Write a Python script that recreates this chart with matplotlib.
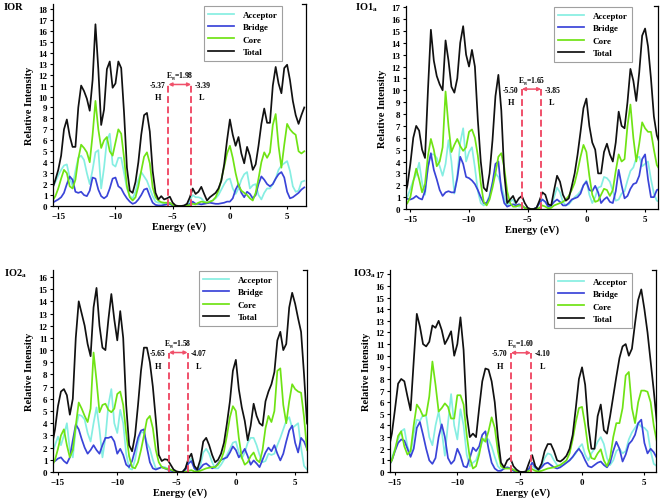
import numpy as np
import matplotlib
matplotlib.use("Agg")
import matplotlib.pyplot as plt

plt.rcParams['font.family'] = ['Liberation Serif', 'DejaVu Serif']
plt.rcParams['font.weight'] = 'bold'
plt.rcParams['axes.labelweight'] = 'bold'
plt.rcParams['mathtext.fontset'] = 'custom'
plt.rcParams['mathtext.rm'] = 'Liberation Serif:bold'
plt.rcParams['mathtext.bf'] = 'Liberation Serif:bold'
plt.rcParams['mathtext.it'] = 'Liberation Serif:bold'

# energy sampling grid (eV), step 0.25 from -15.5 to 6.5
energy = np.round(np.arange(-15.5, 6.51, 0.25), 2)

series_names = ["Acceptor", "Bridge", "Core", "Total"]
panel_names = ["IOR", "IO1", "IO2", "IO3"]
panel_sub = ["", "a", "a", "a"]

# ---------------- IOR ----------------
ior_total = [1.6, 2.4, 3.3, 4.6, 7.0, 7.9, 6.4, 5.4, 5.4, 9.0, 11.0, 10.5, 9.8, 8.7, 11.5, 16.6,
             12.5, 7.4, 8.8, 12.5, 13.2, 10.8, 11.2, 13.2, 12.6, 8.5, 3.5, 1.4, 1.2, 2.2, 4.0, 6.5,
             8.3, 8.5, 6.8, 3.2, 1.2, 0.6, 0.9, 0.6, 0.7, 0.85, 0.3, 0.05, 0, 0, 0.05, 0.2,
             0.8, 1.6, 1.1, 1.3, 1.75, 1.1, 0.5, 0.8, 1.0, 1.2, 1.6, 2.3, 3.8, 6.0, 7.9, 6.5,
             5.5, 6.3, 4.8, 3.9, 5.4, 4.6, 3.3, 3.8, 5.5, 7.5, 8.9, 7.6, 7.6, 11.0, 12.7, 11.2,
             10.3, 12.6, 12.9, 11.5, 9.6, 8.3, 7.5, 8.3, 9.0]
ior_core = [0.5, 0.9, 1.6, 2.5, 3.3, 3.0, 1.8, 1.6, 2.4, 4.3, 5.6, 5.3, 4.9, 4.0, 6.5, 9.6,
            7.0, 5.3, 6.0, 6.3, 5.0, 4.6, 5.8, 7.0, 6.6, 4.4, 1.8, 0.8, 0.5, 0.8, 1.8, 3.2,
            4.5, 4.9, 3.9, 1.7, 0.8, 0.5, 0.35, 0.3, 0.3, 0.3, 0.1, 0, 0, 0, 0, 0.05,
            0.1, 0.2, 0.15, 0.3, 0.4, 0.35, 0.3, 0.4, 0.5, 0.8, 1.4, 2.4, 3.6, 4.8, 5.5, 4.4,
            3.0, 1.9, 1.4, 1.2, 1.0, 0.7, 0.5, 1.2, 2.5, 4.0, 4.9, 4.4, 4.9, 7.4, 8.4, 5.5,
            3.5, 5.6, 7.5, 7.0, 6.7, 6.5, 5.0, 4.8, 5.0]
ior_acceptor = [1.7, 2.2, 2.8, 3.3, 3.7, 3.8, 2.6, 1.8, 3.2, 4.4, 4.6, 4.2, 3.0, 2.0, 3.3, 4.9,
                5.1, 1.6, 3.5, 6.0, 6.6, 3.8, 3.6, 4.4, 4.4, 3.0, 1.6, 0.9, 0.7, 1.3, 2.4, 3.1,
                2.7, 2.3, 1.6, 0.9, 0.4, 0.3, 0.3, 0.2, 0.2, 0.2, 0.05, 0, 0, 0, 0, 0.1,
                0.5, 1.0, 0.8, 0.8, 0.7, 0.4, 0.3, 0.4, 0.5, 0.7, 1.0, 1.5, 2.0, 2.4, 2.5, 1.6,
                1.1, 1.6, 2.4, 2.9, 3.1, 1.6, 1.9, 2.0, 1.0, 0.6, 1.2, 1.6, 1.6, 2.0, 2.5, 3.3,
                3.7, 3.9, 4.1, 3.2, 1.8, 1.3, 1.4, 2.2, 2.3]
ior_bridge = [0.3, 0.45, 0.6, 0.8, 1.2, 2.0, 2.7, 2.4, 1.3, 1.2, 1.3, 1.0, 0.9, 1.4, 2.6, 2.5,
              1.5, 0.9, 0.7, 0.9, 1.6, 2.5, 2.6, 1.8, 1.6, 1.1, 0.7, 0.4, 0.2, 0.3, 0.6, 1.0,
              1.5, 1.6, 0.9, 0.3, 0.1, 0.05, 0.05, 0.1, 0.15, 0.2, 0.05, 0, 0, 0, 0, 0.05,
              0.2, 0.4, 0.2, 0.2, 0.15, 0.2, 0.25, 0.3, 0.25, 0.2, 0.2, 0.25, 0.3, 0.4, 0.4, 0.7,
              1.5, 2.0, 1.2, 0.8, 1.3, 1.1, 0.7, 1.0, 2.0, 2.7, 2.4, 2.0, 1.8, 2.0, 2.5, 2.9,
              3.1, 2.6, 1.3, 0.7, 0.8, 1.0, 1.2, 1.5, 1.7]

# ---------------- IO1a ----------------
io1_total = [1.0, 2.0, 3.8, 6.0, 7.0, 6.6, 5.0, 4.3, 10.0, 15.1, 12.5, 11.2, 10.5, 10.0, 14.2, 12.5,
             10.3, 9.8, 11.0, 14.0, 15.4, 13.0, 12.0, 13.4, 12.0, 7.5, 4.0, 1.8, 1.5, 3.0, 5.8, 9.5,
             11.3, 8.3, 3.0, 0.5, 0.8, 1.1, 0.5, 0.9, 1.1, 0.5, 0.1, 0, 0, 0.1, 0.7, 1.4,
             1.2, 0.4, 0.3, 1.6, 2.8, 2.3, 1.2, 0.7, 0.9, 1.9, 3.0, 4.6, 6.5, 8.5, 9.3, 7.0,
             5.6, 5.0, 3.0, 3.0, 4.8, 5.5, 4.6, 4.0, 5.6, 8.2, 7.0, 6.8, 9.0, 11.8, 10.8, 9.1,
             11.5, 14.6, 15.2, 13.7, 11.0, 7.8, 6.2, 5.5, 5.0]
io1_core = [0.2, 0.5, 1.0, 2.3, 3.4, 2.5, 1.4, 2.1, 4.5, 5.9, 5.0, 3.6, 4.0, 5.2, 9.9, 7.0,
            4.8, 5.4, 5.9, 5.3, 4.9, 5.2, 6.5, 6.7, 6.0, 4.5, 2.2, 0.6, 0.3, 0.8, 1.8, 3.0,
            4.4, 4.7, 3.5, 1.5, 0.5, 0.2, 0.2, 0.3, 0.3, 0.1, 0, 0, 0, 0, 0.1, 0.3,
            0.2, 0.05, 0.1, 0.3, 0.4, 0.5, 0.6, 0.8, 1.1, 1.6, 2.2, 3.2, 4.4, 5.4, 4.8, 2.8,
            1.2, 0.6, 0.7, 1.2, 1.7, 1.6, 1.1, 1.6, 3.2, 4.6, 4.0, 4.2, 7.0, 8.8, 6.0, 4.0,
            5.5, 7.3, 6.8, 6.5, 6.5, 5.0, 3.7, 3.3, 3.1]
io1_acceptor = [0.7, 1.0, 1.7, 2.4, 2.9, 3.9, 2.2, 1.2, 3.6, 4.6, 4.6, 4.3, 3.6, 2.8, 3.8, 5.8,
                4.0, 1.3, 2.8, 5.6, 6.8, 4.0, 4.8, 5.2, 3.5, 1.5, 0.5, 0.3, 0.5, 1.2, 2.2, 3.0,
                2.7, 2.0, 1.0, 0.3, 0.6, 0.8, 0.3, 0.2, 0.2, 0.1, 0, 0, 0, 0.1, 0.5, 0.8,
                0.6, 0.15, 0.2, 1.0, 1.8, 1.4, 0.6, 0.3, 0.4, 0.7, 1.0, 1.2, 1.5, 2.0, 2.4, 1.2,
                0.5, 1.0, 1.8, 1.9, 2.7, 2.6, 2.3, 1.5, 0.7, 0.8, 1.3, 1.5, 2.4, 3.2, 3.5, 4.3,
                4.4, 3.6, 3.8, 4.0, 2.5, 1.3, 0.7, 0.6, 0.6]
io1_bridge = [0.9, 0.85, 0.8, 0.9, 1.1, 0.9, 0.8, 1.5, 3.5, 4.7, 3.3, 2.5, 1.6, 1.1, 1.4, 1.5,
              1.4, 1.4, 2.6, 4.4, 3.8, 2.7, 2.6, 2.4, 2.1, 1.6, 1.0, 0.5, 0.5, 1.0, 2.2, 3.8,
              4.0, 1.6, 0.5, 0.2, 0.3, 0.4, 0.3, 0.4, 0.3, 0.1, 0, 0, 0, 0.1, 0.5, 0.8,
              0.6, 0.2, 0.3, 0.6, 0.8, 0.6, 0.3, 0.3, 0.5, 0.8, 0.9, 1.0, 1.3, 2.0, 2.3, 1.6,
              1.5, 1.95, 1.4, 0.5, 0.8, 1.0, 0.6, 0.5, 1.5, 3.3, 2.0, 0.9, 1.1, 1.7, 2.1, 2.2,
              2.8, 4.2, 4.6, 2.5, 1.0, 1.0, 1.6, 1.7, 1.7]

# ---------------- IO2a ----------------
io2_total = [2.2, 3.5, 5.4, 6.6, 6.8, 6.3, 4.7, 6.0, 11.0, 14.0, 13.0, 12.0, 10.5, 9.5, 13.5, 15.1,
             12.0, 10.2, 10.0, 12.5, 14.6, 12.5, 10.8, 13.2, 11.0, 5.5, 2.2, 1.7, 3.0, 5.5, 8.3, 10.2,
             10.2, 9.0, 7.0, 4.3, 1.4, 0.9, 1.05, 1.0, 0.6, 0.2, 0.05, 0, 0, 0.3, 1.1, 1.5,
             0.5, 0.2, 1.0, 2.5, 2.8, 2.2, 1.4, 0.8, 1.0, 1.5, 2.4, 4.0, 5.8, 8.3, 9.2, 6.8,
             5.3, 4.2, 2.6, 3.8, 5.6, 4.6, 4.0, 3.8, 5.8, 6.6, 7.2, 8.2, 10.8, 11.5, 10.0, 10.5,
             13.5, 14.7, 13.8, 12.6, 11.5, 8.0, 4.0, 3.5, 3.0]
io2_core = [0.5, 1.0, 1.9, 3.0, 3.5, 2.2, 1.2, 1.8, 3.8, 5.7, 5.2, 4.6, 4.1, 5.2, 9.8, 7.5,
            4.9, 5.5, 5.6, 5.1, 4.9, 5.2, 6.4, 6.6, 5.5, 3.2, 1.3, 0.4, 0.3, 0.8, 1.8, 3.0,
            4.3, 4.6, 3.6, 1.8, 0.8, 0.4, 0.3, 0.25, 0.2, 0.1, 0, 0, 0, 0, 0.1, 0.15,
            0.05, 0.05, 0.1, 0.2, 0.3, 0.35, 0.4, 0.4, 0.6, 1.0, 1.7, 3.0, 4.5, 5.4, 5.0, 2.8,
            1.2, 0.6, 0.8, 1.3, 1.6, 1.0, 0.8, 1.8, 3.6, 4.6, 4.1, 5.0, 8.3, 8.5, 5.5, 4.0,
            5.8, 7.2, 6.8, 6.6, 6.5, 4.5, 1.8, 1.5, 1.4]
io2_acceptor = [1.5, 2.2, 2.9, 2.2, 3.0, 4.0, 1.8, 1.2, 3.5, 4.7, 4.6, 4.3, 3.2, 2.5, 4.0, 5.3,
                3.5, 1.2, 2.8, 5.5, 6.8, 4.0, 3.2, 5.1, 4.0, 1.5, 0.3, 0.2, 1.0, 2.4, 3.3, 3.2,
                2.4, 1.9, 1.0, 0.3, 0.3, 0.4, 0.4, 0.3, 0.2, 0.1, 0, 0, 0, 0.3, 0.9, 1.1,
                0.3, 0.05, 0.5, 1.6, 1.9, 1.5, 0.8, 0.3, 0.3, 0.6, 1.0, 1.4, 1.9, 2.4, 2.5, 1.6,
                1.1, 1.6, 2.4, 2.8, 2.8, 2.2, 1.4, 0.8, 0.9, 1.5, 1.4, 1.5, 2.2, 2.8, 3.5, 4.2,
                4.5, 3.6, 3.8, 4.0, 2.0, 0.5, 0.2, 0.2, 0.2]
io2_bridge = [0.8, 0.9, 1.1, 1.2, 0.9, 0.7, 1.2, 2.6, 3.9, 3.5, 2.7, 2.0, 1.5, 1.8, 2.2, 1.8,
              1.5, 2.2, 2.8, 2.8, 2.9, 2.5, 1.5, 1.9, 1.4, 0.6, 0.4, 0.9, 1.8, 2.8, 3.4, 3.5,
              2.0, 0.8, 0.3, 0.2, 0.3, 0.4, 0.3, 0.2, 0.1, 0.05, 0, 0, 0, 0.2, 0.7, 0.9,
              0.3, 0.1, 0.3, 0.6, 0.7, 0.5, 0.3, 0.4, 0.7, 1.0, 1.1, 1.2, 1.6, 2.1, 1.8, 1.2,
              1.5, 1.9, 1.3, 0.6, 0.95, 0.7, 0.4, 1.0, 1.6, 2.0, 1.7, 2.2, 1.5, 0.95, 1.5, 2.5,
              3.4, 3.8, 2.4, 1.6, 2.8, 2.5, 1.9, 1.8, 1.8]

# ---------------- IO3a ----------------
io3_total = [2.0, 3.3, 5.4, 7.6, 8.0, 7.8, 6.5, 5.3, 9.5, 13.6, 12.5, 11.0, 10.8, 11.2, 12.6, 12.4,
             13.0, 12.2, 11.0, 11.5, 12.1, 10.0, 11.0, 13.3, 10.5, 5.0, 3.0, 3.3, 3.0, 5.5, 7.8, 8.9,
             8.8, 7.8, 6.0, 3.0, 0.8, 0.4, 1.0, 1.2, 0.5, 0.2, 0.02, 0, 0.05, 0.8, 1.45, 0.5,
             0.2, 0.7, 1.8, 2.4, 2.4, 1.8, 1.0, 0.9, 1.1, 1.4, 2.0, 3.2, 5.5, 8.0, 9.0, 7.5,
             4.0, 2.0, 2.0, 4.8, 5.8, 3.6, 3.3, 4.8, 6.5, 8.2, 9.8, 10.8, 11.0, 10.0, 10.6, 12.8,
             14.8, 15.7, 14.0, 12.0, 9.5, 7.0, 4.2, 4.0, 4.0]
io3_core = [0.6, 1.0, 1.9, 3.1, 3.5, 2.2, 1.5, 1.8, 4.0, 5.8, 5.4, 4.8, 4.9, 6.5, 9.5, 7.5,
            5.2, 5.5, 5.9, 5.6, 4.6, 4.6, 6.6, 6.6, 5.8, 3.2, 1.2, 0.3, 0.5, 1.5, 2.9, 2.6,
            3.5, 4.7, 3.8, 1.8, 0.5, 0.3, 0.3, 0.3, 0.2, 0.05, 0, 0, 0, 0.1, 0.25, 0.1,
            0.05, 0.1, 0.2, 0.3, 0.35, 0.4, 0.5, 0.6, 0.8, 1.0, 1.6, 2.8, 4.3, 5.5, 5.6, 4.0,
            2.0, 1.2, 1.1, 1.6, 1.95, 1.0, 0.5, 1.2, 3.0, 4.2, 4.2, 5.5, 8.3, 8.6, 5.5, 4.2,
            6.0, 7.0, 7.0, 6.9, 6.0, 4.0, 2.6, 2.5, 2.5]
io3_acceptor = [0.7, 1.2, 2.0, 2.8, 3.5, 3.7, 2.2, 1.5, 3.3, 4.5, 4.4, 4.9, 4.8, 3.0, 2.3, 4.0,
                5.2, 3.5, 1.4, 4.2, 6.7, 4.0, 2.8, 5.4, 4.0, 1.5, 0.5, 0.8, 1.0, 1.8, 2.6, 2.9,
                2.8, 2.2, 1.3, 0.5, 0.2, 0.3, 0.4, 0.35, 0.2, 0.05, 0, 0, 0, 0.2, 0.5, 0.3,
                0.1, 0.5, 1.2, 1.6, 1.5, 1.0, 0.6, 0.5, 0.6, 0.8, 1.0, 1.3, 1.6, 2.1, 2.4, 1.5,
                1.0, 1.6, 2.0, 2.6, 3.0, 2.4, 1.2, 0.6, 1.0, 1.8, 2.0, 1.6, 1.8, 2.8, 3.4, 3.8,
                4.2, 3.9, 3.8, 3.5, 1.8, 0.7, 0.5, 0.5, 0.5]
io3_bridge = [0.5, 1.0, 1.8, 2.5, 2.8, 2.7, 2.0, 1.3, 2.0, 3.8, 4.3, 3.2, 2.0, 1.0, 0.7, 1.2,
              3.0, 4.1, 3.0, 1.2, 0.7, 1.0, 2.0, 1.4, 0.5, 0.4, 1.2, 2.1, 1.8, 2.2, 3.2, 3.5,
              2.0, 0.8, 0.3, 0.1, 0.1, 0.3, 0.4, 0.3, 0.1, 0.05, 0, 0, 0, 0.3, 0.8, 0.4,
              0.2, 0.4, 0.7, 0.8, 0.6, 0.4, 0.3, 0.4, 0.6, 0.8, 1.0, 1.3, 1.7, 2.0, 1.6, 1.0,
              0.5, 0.4, 0.6, 0.8, 0.9, 0.6, 0.4, 0.8, 1.8, 2.6, 2.0, 0.9, 1.5, 2.4, 2.7, 3.2,
              4.2, 4.5, 2.5, 1.6, 2.0, 1.7, 1.2, 1.2, 1.2]

homo = [-5.37, -5.50, -5.65, -5.70]
lumo = [-3.39, -3.85, -4.07, -4.10]
gap = [1.98, 1.65, 1.58, 1.60]

panels = [
    (ior_acceptor, ior_bridge, ior_core, ior_total),
    (io1_acceptor, io1_bridge, io1_core, io1_total),
    (io2_acceptor, io2_bridge, io2_core, io2_total),
    (io3_acceptor, io3_bridge, io3_core, io3_total),
]
for p in panels:
    for s in p:
        assert len(s) == len(energy), len(s)

colors = ['#86eee2', '#3a44d8', '#6fe314', '#111111']
red = '#f0506a'

W, H = 661, 502
fig = plt.figure(figsize=(W / 100, H / 100), dpi=100)

# axes boxes in pixels: left, top, right, bottom
boxes = [(53, 5, 306, 207), (406, 7, 658, 210), (53, 271, 307, 473), (390, 271, 656, 473)]
xlims = [(-15.46, 6.65), (-15.37, 6.1), (-15.42, 6.0), (-15.4, 5.93)]
ylims = [18.45, 17.1, 16.57, 17.37]
ymaxtick = [18, 17, 16, 17]
arrow_top = [11.1, 10.1, 9.8, 10.25]
leg_anchor = [(0.905, 0.99), (0.897, 0.994), (0.882, 0.994), (0.91, 0.985)]
title_pos = [(4, 8), (355, 8), (4, 274), (353, 274)]

for k in range(4):
    l, t, r, b = boxes[k]
    ax = fig.add_axes([l / W, 1 - b / H, (r - l) / W, (b - t) / H])
    for name, vals, c in zip(series_names, panels[k], colors):
        ax.plot(energy, vals, color=c, lw=1.25, label=name, solid_joinstyle='round')
    ax.set_xlim(*xlims[k])
    ax.set_ylim(0, ylims[k])
    ax.set_xticks([-15, -10, -5, 0, 5])
    ax.set_yticks(range(0, ymaxtick[k] + 1))
    ax.spines['top'].set_visible(False)
    for s in ['left', 'right', 'bottom']:
        ax.spines[s].set_linewidth(0.9)
    # small corner mark at the top of the right spine
    ax.plot([0.985, 1.0], [1.0, 1.0], transform=ax.transAxes, color='black', lw=0.9,
            clip_on=False)
    ax.tick_params(direction='out', length=2.5, width=0.8, labelsize=6.5, pad=1.5)
    ax.tick_params(axis='y', right=False)
    for lab in ax.get_xticklabels() + ax.get_yticklabels():
        lab.set_fontweight('bold')
    ax.set_xlabel('Energy (eV)', fontsize=7.5, labelpad=1)
    ax.set_ylabel('Relative Intensity', fontsize=7.5, labelpad=3)

    h, lu, top = homo[k], lumo[k], arrow_top[k]
    ax.plot([h, h], [0, top], ls=(0, (3.5, 1.8)), color=red, lw=1.4)
    ax.plot([lu, lu], [0, top], ls=(0, (3.5, 1.8)), color=red, lw=1.4)
    ax.annotate('', xy=(h, top), xytext=(lu, top),
                arrowprops=dict(arrowstyle='<|-|>', color=red, lw=1.1,
                                mutation_scale=5, shrinkA=0, shrinkB=0))
    ax.text((h + lu) / 2, top + 0.3, r'E$_{g}$=%.2f' % gap[k], ha='center', va='bottom',
            fontsize=5.5)
    ax.text(h - 0.3, top - 0.05, '%.2f' % h, ha='right', va='center', fontsize=5.5)
    ax.text(h - 0.9, top - 1.1, 'H', ha='center', va='center', fontsize=6)
    ax.text(lu + 0.3, top - 0.05, '%.2f' % lu, ha='left', va='center', fontsize=5.5)
    ax.text(lu + 0.9, top - 1.1, 'L', ha='center', va='center', fontsize=6)

    leg = ax.legend(loc='upper right', bbox_to_anchor=leg_anchor[k], fontsize=6.5,
                    frameon=True, fancybox=False, handlelength=2.8, handletextpad=1.0,
                    labelspacing=0.45, borderpad=0.5, borderaxespad=0)
    leg.get_frame().set_edgecolor('#888888')
    leg.get_frame().set_linewidth(0.8)
    for txt in leg.get_texts():
        txt.set_fontweight('bold')

    tx, ty = title_pos[k]
    lbl = panel_names[k] + (r'$_{\mathrm{%s}}$' % panel_sub[k] if panel_sub[k] else '')
    fig.text(tx / W, 1 - ty / H, lbl, ha='left', va='center', fontsize=7.5, fontweight='bold')

fig.savefig('out.png', dpi=100)
